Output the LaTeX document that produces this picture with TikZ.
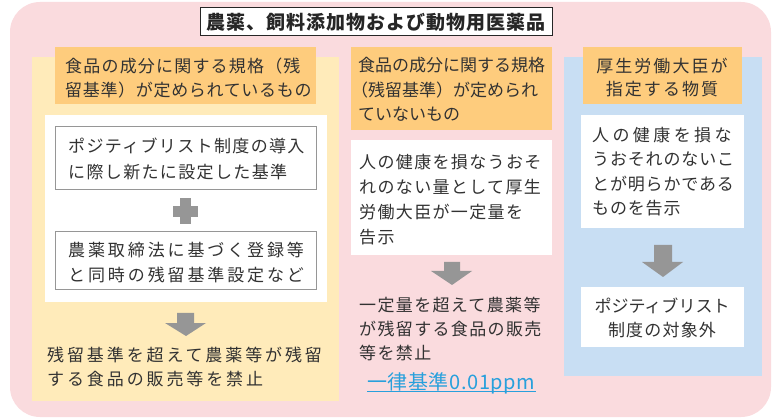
\documentclass[tikz,border=0pt]{standalone}
\usepackage{fontspec}
\setmainfont{Noto Sans CJK JP}
\definecolor{pinkbg}{RGB}{250,219,222}
\definecolor{cream}{RGB}{255,235,186}
\definecolor{orangeh}{RGB}{254,204,125}
\definecolor{bluebg}{RGB}{200,222,243}
\definecolor{arrowgray}{RGB}{150,150,150}
\definecolor{txt}{RGB}{50,50,50}
\definecolor{linkblue}{RGB}{40,160,220}
\definecolor{boxline}{RGB}{150,150,150}
\newcommand{\LS}[2]{{\addfontfeature{LetterSpace=#1}#2}}
\tikzset{
  body/.style={font=\fontsize{17}{24.5}\selectfont, text=txt, inner sep=0pt, align=left},
  bodyc/.style={body, align=center},
  blockarrow/.style={fill=arrowgray},
}
\begin{document}
\begin{tikzpicture}[x=1pt,y=-1pt]
\useasboundingbox (0,0) rectangle (773,419);
% outer
\fill[pinkbg, rounded corners=30pt] (10,2) rectangle (771,417);
% title
\node[draw=black!85, line width=1pt, fill=white, minimum width=352pt, minimum height=28pt, inner sep=0pt,
  font=\fontsize{19}{22}\selectfont\bfseries, text=black!85] (title) at (376,22)
  {\LS{5}{農薬、飼料添加物および動物用医薬品}};

% ---------- left column ----------
\fill[cream] (32,57) rectangle (339,401);
\fill[orangeh] (55,47) rectangle (316,104);
\fill[white] (45,115) rectangle (327,302);
\draw[boxline, line width=1pt] (55,127) rectangle (316,190);
\draw[boxline, line width=1pt] (55,232) rectangle (316,290);
\node[body, font=\fontsize{17}{24}\selectfont, anchor=west] (lh) at (65,78)
  {\LS{7}{食品の成分に関する規格（残}\\\LS{4}{留基準）が定められているもの}};
\node[body, font=\fontsize{17}{26.5}\selectfont, anchor=west] (l1) at (68,159)
  {\LS{8}{ポジティブリスト制度の導入}\\\LS{8}{に際し新たに設定した基準}};
% plus
\fill[arrowgray] (180,198) rectangle (191,224);
\fill[arrowgray] (173,206) rectangle (198,217);
\node[body, font=\fontsize{17}{25}\selectfont, anchor=west] (l2) at (68,262.5)
  {\LS{17}{農薬取締法に基づく登録等}\\\LS{17}{と同時の残留基準設定など}};
\fill[blockarrow] (177,313) -- (194,313) -- (194,323) -- (206,323) -- (186,336) -- (165,323) -- (177,323) -- cycle;
\node[body, font=\fontsize{17}{24.5}\selectfont, anchor=west] (l3) at (47,367)
  {\LS{17}{残留基準を超えて農薬等が残留}\\\LS{17}{する食品の販売等を禁止}};

% ---------- middle column ----------
\fill[orangeh] (351,47) rectangle (552,130);
\fill[white] (351,140) rectangle (552,255);
\node[body, anchor=west] (mh) at (358,89.5)
  {食品の成分に関する規格\\\hspace*{-7pt}（残留基準）が定められ\\ていないもの};
\node[body, font=\fontsize{17}{25}\selectfont, anchor=west] (m1) at (359,199.5)
  {\LS{8}{人の健康を損なうおそ}\\\LS{8}{れのない量として厚生}\\\LS{8}{労働大臣が一定量を}\\\LS{8}{告示}};
\fill[blockarrow] (444,262) -- (460,262) -- (460,271) -- (472,271) -- (452,285) -- (431,271) -- (444,271) -- cycle;
\node[body, font=\fontsize{17}{24}\selectfont, anchor=west] (m2) at (359,329.5)
  {\LS{8}{一定量を超えて農薬等}\\\LS{8}{が残留する食品の販売}\\\LS{8}{等を禁止}};
\node[inner sep=0pt, font=\fontsize{20}{22}\selectfont, text=linkblue, anchor=west] (link) at (367,383)
  {\LS{3}{一律基準0.01ppm}};
\draw[linkblue, line width=1pt] ([yshift=-2.5pt]link.base west) -- ([yshift=-2.5pt]link.base east);

% ---------- right column ----------
\fill[bluebg] (564,57) rectangle (762,376);
\fill[orangeh] (583,47) rectangle (742,104);
\fill[white] (581,115) rectangle (744,228);
\fill[white] (581,287) rectangle (744,347);
\node[bodyc, font=\fontsize{17}{23.5}\selectfont] (rh) at (662,77.5)
  {\LS{12}{厚生労働大臣が}\\\LS{12}{指定する物質}};
\node[body, font=\fontsize{17}{24.3}\selectfont, anchor=west] (r1) at (592,171.5)
  {\LS{20}{人の健康を損な}\\\LS{5}{うおそれのないこ}\\\LS{5}{とが明らかである}\\\LS{5}{ものを告示}};
\fill[blockarrow] (654,245) -- (672,245) -- (672,262) -- (683,262) -- (663,277) -- (642,262) -- (654,262) -- cycle;
\node[bodyc, font=\fontsize{17}{24}\selectfont] (r2) at (662,318)
  {ポジティブリスト\\\LS{7}{制度の対象外}};
\end{tikzpicture}
\end{document}
